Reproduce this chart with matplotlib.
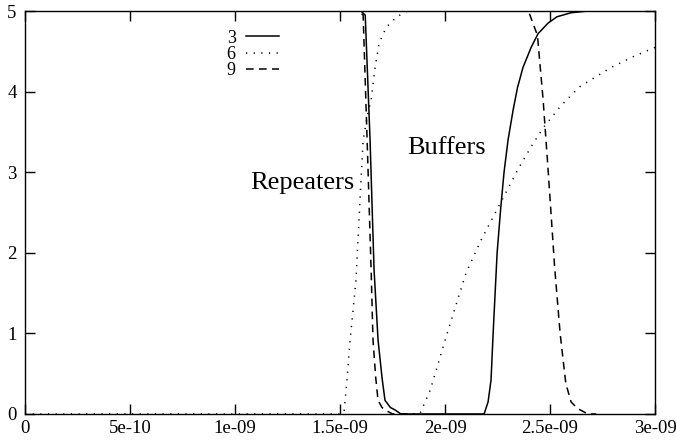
import numpy as np
import matplotlib.pyplot as plt
from matplotlib.ticker import FuncFormatter, MultipleLocator

plt.rcParams['font.family'] = ['Liberation Serif', 'DejaVu Serif']

# time in units of 1e-9 s, voltage in V
rep3_t = [0.0, 1.60, 1.62, 1.643, 1.662, 1.681, 1.700, 1.714, 1.740, 1.762, 1.79, 1.85]
rep3_v = [5.0, 5.0, 4.95, 3.4, 1.79, 0.92, 0.45, 0.17, 0.08, 0.05, 0.0, 0.0]
buf3_t = [1.85, 2.186, 2.205, 2.219, 2.229, 2.248, 2.265, 2.281, 2.30, 2.324, 2.345, 2.371, 2.41, 2.443, 2.49, 2.533, 2.60, 2.676]
buf3_v = [0.0, 0.0, 0.15, 0.42, 1.0, 2.0, 2.55, 3.0, 3.4, 3.77, 4.05, 4.3, 4.55, 4.72, 4.85, 4.93, 4.98, 5.0]

rep6_t = [0.0, 1.50, 1.519, 1.533, 1.548, 1.576, 1.595, 1.61, 1.630, 1.648, 1.667, 1.686, 1.72, 1.77, 1.82, 1.85]
rep6_v = [0.0, 0.0, 0.02, 0.42, 0.92, 1.66, 2.66, 3.4, 3.7, 3.9, 4.3, 4.6, 4.8, 4.93, 5.0, 5.0]
buf6_t = [1.85, 1.88, 1.93, 2.01, 2.10, 2.17, 2.27, 2.35, 2.42, 2.47, 2.55, 2.64, 2.79, 2.90, 3.0]
buf6_v = [0.0, 0.0, 0.3, 1.0, 1.75, 2.15, 2.65, 3.05, 3.36, 3.56, 3.82, 4.06, 4.3, 4.44, 4.55]

rep9_t = [0.0, 1.59, 1.61, 1.629, 1.648, 1.657, 1.670, 1.681, 1.70, 1.714, 1.75, 1.85]
rep9_v = [5.0, 5.0, 4.95, 3.4, 1.79, 0.92, 0.45, 0.17, 0.08, 0.05, 0.0, 0.0]
buf9_t = [1.85, 2.38, 2.40, 2.44, 2.467, 2.49, 2.522, 2.548, 2.575, 2.60, 2.63, 2.68, 2.72]
buf9_v = [5.0, 5.0, 4.98, 4.7, 3.9, 3.06, 1.82, 1.0, 0.38, 0.15, 0.07, 0.0, 0.0]

labels = ['3', '6', '9']
styles = ['-', (0, (0.8, 4.2)), (0, (5, 3.5))]

fig = plt.figure(figsize=(6.76, 4.45), dpi=100)
ax = fig.add_axes([0.037, 0.0697, 0.932, 0.9053])

pairs = [(rep3_t, rep3_v, buf3_t, buf3_v),
         (rep6_t, rep6_v, buf6_t, buf6_v),
         (rep9_t, rep9_v, buf9_t, buf9_v)]

for lab, ls, (rt, rv, bt, bv) in zip(labels, styles, pairs):
    ax.plot(np.array(rt) * 1e-9, rv, color='black', linestyle=ls, linewidth=1.1, label=lab)
    ax.plot(np.array(bt) * 1e-9, bv, color='black', linestyle=ls, linewidth=1.1)

ax.text(1.07e-9, 2.87, 'Repeaters', fontsize=19, va='center', ha='left')
ax.text(1.82e-9, 3.3, 'Buffers', fontsize=19, va='center', ha='left')

ax.set_xlim(0, 3e-9)
ax.set_ylim(0, 5)
ax.xaxis.set_major_locator(MultipleLocator(5e-10))
ax.yaxis.set_major_locator(MultipleLocator(1))
ax.xaxis.set_major_formatter(FuncFormatter(lambda v, p: '%g' % v))
ax.yaxis.set_major_formatter(FuncFormatter(lambda v, p: '%g' % v))
ax.tick_params(direction='in', length=7, width=1, top=True, right=True, labelsize=13.5, pad=4)
ax.tick_params(axis='y', pad=6)

for s in ax.spines.values():
    s.set_linewidth(1.0)

leg = ax.legend(loc='upper left', bbox_to_anchor=(0.3, 0.985), frameon=False, markerfirst=False,
                fontsize=13, handlelength=1.8, handletextpad=0.6, labelspacing=-0.05, borderpad=0.2)

fig.savefig('out.png', dpi=100)
